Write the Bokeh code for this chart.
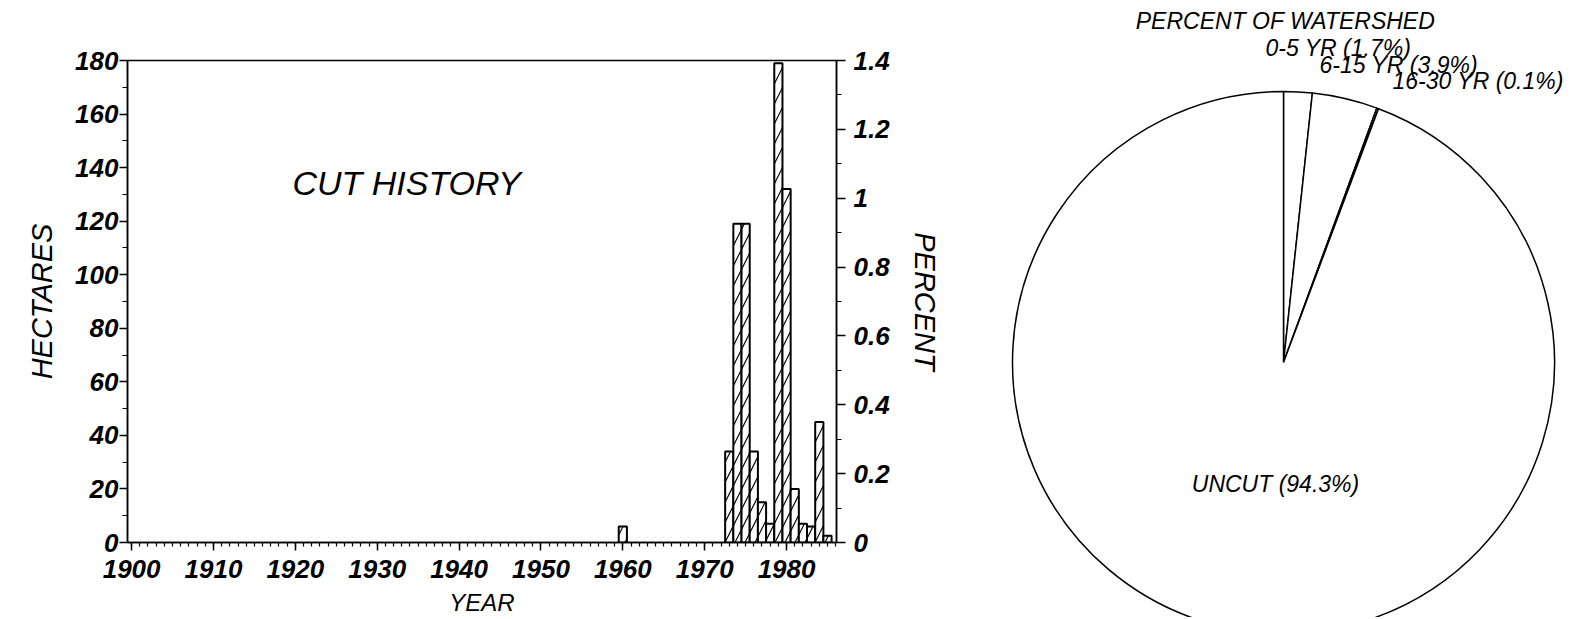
import math
from bokeh.plotting import figure
from bokeh.models import (Range1d, LinearAxis, FixedTicker, CustomJSTickFormatter,
                          Label, ColumnDataSource)
from bokeh.layouts import row
from bokeh.embed import file_html
from bokeh.resources import INLINE

# ---------------- data ----------------
years = [1960, 1973, 1974, 1975, 1976, 1977, 1978, 1979, 1980, 1981, 1982, 1983, 1984, 1985]
hectares = [6, 34, 119, 119, 34, 15, 7, 179, 132, 20, 7, 6, 45, 2.5]

year_ticks = [1900, 1910, 1920, 1930, 1940, 1950, 1960, 1970, 1980]
ha_ticks = [0, 20, 40, 60, 80, 100, 120, 140, 160, 180]
pct_ticks = [0, 0.2, 0.4, 0.6, 0.8, 1.0, 1.2, 1.4]

pie_labels = ["0-5 YR (1.7%)", "6-15 YR (3.9%)", "16-30 YR (0.1%)", "UNCUT (94.3%)"]
pie_values = [1.7, 3.9, 0.1, 94.3]

FONT = "Liberation Sans"
H = 617

# ---------------- bar chart ----------------
p = figure(frame_width=709, frame_height=482, min_border_left=127, min_border_top=60,
           min_border_right=132, min_border_bottom=H - 60 - 482,
           x_range=Range1d(1899.5, 1986.1), y_range=Range1d(0, 180),
           output_backend="svg", toolbar_location=None)
p.frame_align = False
p.xgrid.visible = False
p.ygrid.visible = False
p.outline_line_color = "black"
p.outline_line_width = 1.5
p.background_fill_color = "white"
p.border_fill_color = "white"

src = ColumnDataSource(dict(year=years, ha=hectares))
p.vbar(x="year", top="ha", width=1.0, source=src, fill_color="white",
       line_color="black", line_width=2, hatch_pattern="/", hatch_scale=20,
       hatch_weight=1.2, hatch_color="black")

p.extra_y_ranges = {"pct": Range1d(0, 1.4)}
ax_r = LinearAxis(y_range_name="pct")
p.add_layout(ax_r, "right")

minor_years = list(range(1900, 1987))
p.xaxis.ticker = FixedTicker(ticks=year_ticks, minor_ticks=minor_years)
p.yaxis[0].ticker = FixedTicker(ticks=ha_ticks, minor_ticks=list(range(0, 181, 10)))
ax_r.ticker = FixedTicker(ticks=pct_ticks, minor_ticks=[round(i * 0.1, 1) for i in range(15)])
ax_r.formatter = CustomJSTickFormatter(code="return String(Math.round(tick*10)/10)")

for ax in p.axis:
    ax.axis_line_width = 1.5
    ax.major_tick_line_width = 1.5
    ax.minor_tick_line_width = 1.2
    ax.major_tick_in = 0
    ax.minor_tick_in = 0
    ax.major_label_text_font = FONT
    ax.major_label_text_font_style = "bold italic"
    ax.major_label_text_font_size = "26px"
    ax.axis_label_text_font = FONT
    ax.axis_label_text_font_style = "italic"
    ax.axis_label_text_font_size = "29px"
    ax.major_label_text_color = "black"
    ax.axis_label_text_color = "black"

p.xaxis.major_tick_out = 8
p.xaxis.minor_tick_out = 4
p.xaxis.major_label_standoff = 9
p.xaxis.axis_label = "YEAR"
p.xaxis.axis_label_text_font_size = "24px"
p.xaxis.axis_label_standoff = 8
p.yaxis[0].major_tick_out = 8
p.yaxis[0].minor_tick_out = 5
p.yaxis[0].major_label_standoff = 1
p.yaxis[0].axis_label = "HECTARES"
p.yaxis[0].axis_label_standoff = 14
ax_r.major_tick_out = 9
ax_r.minor_tick_out = 5
ax_r.major_label_standoff = 8
ax_r.axis_label = "PERCENT"
ax_r.axis_label_standoff = 16

p.add_layout(Label(x=1933.6, y=134.4, text="CUT HISTORY", text_font=FONT,
                   text_font_style="italic", text_font_size="34px", text_color="black",
                   text_align="center", text_baseline="middle"))

# ---------------- pie chart ----------------
X0, X1 = 968, 1575
q = figure(width=X1 - X0, height=H, min_border_left=0, min_border_right=0,
           min_border_top=0, min_border_bottom=0, x_range=Range1d(X0, X1),
           y_range=Range1d(-H, 0), output_backend="svg", toolbar_location=None)
q.frame_align = False
q.axis.visible = False
q.grid.visible = False
q.outline_line_color = None
q.background_fill_color = "white"
q.border_fill_color = "white"

cx, cy, r = 1283, -362, 271
starts, ends = [], []
cum = 0.0
for v in pie_values:
    starts.append(math.pi / 2 - 2 * math.pi * cum / 100.0)
    cum += v
    ends.append(math.pi / 2 - 2 * math.pi * cum / 100.0)
psrc = ColumnDataSource(dict(start=starts, end=ends, label=pie_labels))
q.wedge(x=cx, y=cy, radius=r, start_angle="start", end_angle="end", direction="clock",
        source=psrc, fill_color="white", line_color="black", line_width=1.5)

q.add_layout(Label(x=1285, y=-20, text="PERCENT OF WATERSHED", text_font=FONT,
                   text_font_style="italic", text_font_size="23px", text_color="black",
                   text_align="center", text_baseline="middle"))
lab_pos = [(1265, -47), (1319, -64), (1392, -80)]
for (lx, ly), t in zip(lab_pos, pie_labels[:3]):
    q.add_layout(Label(x=lx, y=ly, text=t, text_font=FONT, text_font_style="italic",
                       text_font_size="23px", text_color="black",
                       text_align="left", text_baseline="middle"))
q.add_layout(Label(x=1275, y=-483, text=pie_labels[3], text_font=FONT,
                   text_font_style="italic", text_font_size="23px", text_color="black",
                   text_align="center", text_baseline="middle"))

layout = row(p, q)
open("out.html", "w").write(file_html(layout, INLINE))
